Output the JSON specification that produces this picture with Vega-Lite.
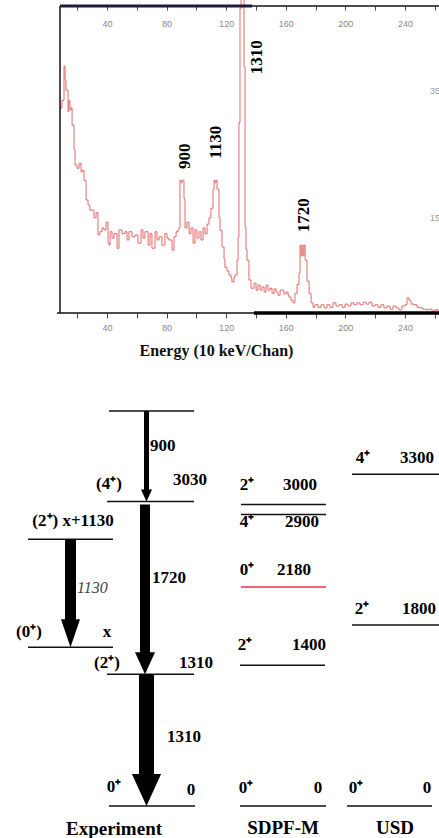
{
  "$schema": "https://vega.github.io/schema/vega-lite/v6.json",
  "background": "white",
  "padding": {"left": 16, "top": 0, "right": 0, "bottom": 0},
  "spacing": 20,
  "config": {"view": {"stroke": null}, "font": "Liberation Serif"},
  "datasets": {
    "spectrum": [
      {"chan":8.5,"counts":323},{"chan":9.8,"counts":335},{"chan":11.2,"counts":389},{"chan":11.9,"counts":367},{"chan":12.5,"counts":351},{"chan":13.2,"counts":351},{"chan":13.9,"counts":317},{"chan":14.5,"counts":335},{"chan":15.2,"counts":320},{"chan":15.9,"counts":323},{"chan":16.6,"counts":296},{"chan":17.9,"counts":257},{"chan":18.6,"counts":233},{"chan":19.9,"counts":228},{"chan":21.3,"counts":236},{"chan":22.6,"counts":222},{"chan":23.3,"counts":225},{"chan":24.6,"counts":209},{"chan":26.0,"counts":178},{"chan":27.3,"counts":170},{"chan":28.6,"counts":162},{"chan":30.0,"counts":162},{"chan":31.3,"counts":150},{"chan":32.7,"counts":158},{"chan":34.0,"counts":123},{"chan":35.3,"counts":128},{"chan":36.7,"counts":134},{"chan":38.0,"counts":131},{"chan":39.4,"counts":143},{"chan":40.7,"counts":110},{"chan":41.4,"counts":107},{"chan":42.1,"counts":128},{"chan":43.4,"counts":118},{"chan":44.7,"counts":125},{"chan":46.8,"counts":102},{"chan":48.1,"counts":131},{"chan":50.1,"counts":125},{"chan":52.1,"counts":128},{"chan":53.5,"counts":115},{"chan":54.8,"counts":128},{"chan":56.8,"counts":120},{"chan":58.8,"counts":123},{"chan":60.8,"counts":110},{"chan":62.9,"counts":131},{"chan":64.2,"counts":118},{"chan":65.5,"counts":128},{"chan":67.6,"counts":107},{"chan":68.9,"counts":125},{"chan":70.2,"counts":102},{"chan":72.3,"counts":128},{"chan":73.6,"counts":115},{"chan":74.9,"counts":120},{"chan":76.9,"counts":107},{"chan":78.9,"counts":125},{"chan":80.3,"counts":118},{"chan":81.6,"counts":115},{"chan":83.7,"counts":99},{"chan":85.0,"counts":120},{"chan":86.4,"counts":128},{"chan":87.7,"counts":131},{"chan":88.4,"counts":134},{"chan":89.0,"counts":209},{"chan":89.7,"counts":205},{"chan":90.4,"counts":209},{"chan":91.1,"counts":209},{"chan":91.7,"counts":180},{"chan":92.4,"counts":134},{"chan":93.7,"counts":143},{"chan":95.1,"counts":125},{"chan":96.4,"counts":134},{"chan":97.8,"counts":110},{"chan":99.1,"counts":131},{"chan":100.4,"counts":118},{"chan":101.8,"counts":128},{"chan":103.1,"counts":115},{"chan":104.5,"counts":134},{"chan":105.8,"counts":125},{"chan":107.2,"counts":140},{"chan":108.5,"counts":150},{"chan":109.8,"counts":165},{"chan":111.2,"counts":195},{"chan":111.9,"counts":209},{"chan":112.6,"counts":205},{"chan":113.2,"counts":209},{"chan":113.9,"counts":195},{"chan":115.2,"counts":150},{"chan":115.9,"counts":130},{"chan":117.2,"counts":104},{"chan":118.6,"counts":85},{"chan":119.2,"counts":72},{"chan":120.6,"counts":66},{"chan":121.9,"counts":60},{"chan":123.3,"counts":55},{"chan":123.9,"counts":49},{"chan":125.3,"counts":57},{"chan":126.0,"counts":60},{"chan":127.3,"counts":83},{"chan":128.0,"counts":120},{"chan":128.6,"counts":300},{"chan":129.3,"counts":480},{"chan":130.0,"counts":600},{"chan":131.3,"counts":600},{"chan":132.0,"counts":387},{"chan":132.7,"counts":135},{"chan":133.3,"counts":100},{"chan":134.0,"counts":83},{"chan":135.3,"counts":52},{"chan":136.7,"counts":39},{"chan":137.4,"counts":39},{"chan":138.7,"counts":47},{"chan":140.1,"counts":36},{"chan":141.4,"counts":44},{"chan":142.8,"counts":36},{"chan":144.1,"counts":41},{"chan":145.5,"counts":33},{"chan":146.8,"counts":44},{"chan":148.1,"counts":36},{"chan":149.5,"counts":39},{"chan":150.8,"counts":31},{"chan":152.2,"counts":38},{"chan":153.5,"counts":33},{"chan":154.8,"counts":28},{"chan":156.2,"counts":36},{"chan":157.5,"counts":36},{"chan":158.8,"counts":30},{"chan":160.2,"counts":33},{"chan":161.5,"counts":28},{"chan":162.2,"counts":25},{"chan":163.5,"counts":20},{"chan":164.9,"counts":16},{"chan":166.2,"counts":31},{"chan":167.6,"counts":45},{"chan":168.9,"counts":63},{"chan":169.6,"counts":107},{"chan":170.3,"counts":90},{"chan":170.9,"counts":107},{"chan":171.6,"counts":90},{"chan":172.3,"counts":107},{"chan":173.0,"counts":83},{"chan":174.3,"counts":50},{"chan":175.7,"counts":31},{"chan":177.0,"counts":16},{"chan":178.3,"counts":9},{"chan":179.6,"counts":13},{"chan":181.7,"counts":9},{"chan":183.7,"counts":13},{"chan":185.7,"counts":8},{"chan":187.7,"counts":13},{"chan":189.7,"counts":9},{"chan":191.7,"counts":16},{"chan":193.7,"counts":11},{"chan":195.8,"counts":13},{"chan":197.8,"counts":9},{"chan":199.8,"counts":14},{"chan":201.8,"counts":11},{"chan":203.8,"counts":16},{"chan":205.8,"counts":13},{"chan":207.8,"counts":16},{"chan":209.8,"counts":13},{"chan":211.9,"counts":17},{"chan":213.9,"counts":14},{"chan":215.9,"counts":17},{"chan":217.9,"counts":11},{"chan":219.9,"counts":13},{"chan":221.9,"counts":9},{"chan":223.9,"counts":13},{"chan":225.9,"counts":8},{"chan":227.9,"counts":11},{"chan":230.0,"counts":6},{"chan":232.0,"counts":11},{"chan":234.0,"counts":8},{"chan":236.0,"counts":5},{"chan":238.0,"counts":11},{"chan":240.0,"counts":13},{"chan":241.4,"counts":24},{"chan":242.7,"counts":20},{"chan":244.1,"counts":14},{"chan":246.1,"counts":13},{"chan":248.1,"counts":9},{"chan":250.1,"counts":8},{"chan":252.1,"counts":6},{"chan":254.1,"counts":5},{"chan":256.2,"counts":6},{"chan":258.2,"counts":3},{"chan":260.2,"counts":5},{"chan":262.2,"counts":3},{"chan":264.2,"counts":3}
    ],
    "frame": [
      {"edge":"left","c1":8.5,"c2":8.5,"v1":0,"v2":483.5},
      {"edge":"top","c1":8.5,"c2":264.2,"v1":483.5,"v2":483.5},
      {"edge":"bottom","c1":6.5,"c2":264.2,"v1":0,"v2":0}
    ],
    "heavyTop": [{"c1":8.5,"c2":137.4,"v":483.5}],
    "heavyBottom": [{"c1":138.7,"c2":264.2,"v":0}],
    "peaks": [
      {"chan":92.4,"counts":247,"label":"900"},
      {"chan":113.2,"counts":269,"label":"1130"},
      {"chan":140.7,"counts":403,"label":"1310"},
      {"chan":172.3,"counts":154,"label":"1720"}
    ],
    "sideTicks": [
      {"chan":256.8,"counts":350,"label":"35"},
      {"chan":256.8,"counts":150,"label":"15"}
    ],
    "levels": [
      {"scheme":"Experiment","x":107,"x2":192,"E":3930,"type":"normal"},
      {"scheme":"Experiment","x":105,"x2":192,"E":3030,"type":"normal"},
      {"scheme":"Experiment","x":26,"x2":111,"E":2654,"type":"normal"},
      {"scheme":"Experiment","x":26,"x2":111,"E":1580,"type":"normal"},
      {"scheme":"Experiment","x":105,"x2":192,"E":1310,"type":"normal"},
      {"scheme":"Experiment","x":107,"x2":193,"E":0,"type":"normal"},
      {"scheme":"SDPF-M","x":239,"x2":324,"E":3000,"type":"normal"},
      {"scheme":"SDPF-M","x":239,"x2":324,"E":2900,"type":"normal"},
      {"scheme":"SDPF-M","x":239,"x2":324,"E":2180,"type":"intruder"},
      {"scheme":"SDPF-M","x":238,"x2":323,"E":1400,"type":"normal"},
      {"scheme":"SDPF-M","x":238,"x2":324,"E":0,"type":"normal"},
      {"scheme":"USD","x":350,"x2":437,"E":3300,"type":"normal"},
      {"scheme":"USD","x":350,"x2":437,"E":1800,"type":"normal"},
      {"scheme":"USD","x":345,"x2":430,"E":0,"type":"normal"}
    ],
    "transitions": [
      {"gamma":"900","x":144.5,"from":3930,"to":3030},
      {"gamma":"1720","x":143,"from":3030,"to":1310},
      {"gamma":"1130","x":68.5,"from":2654,"to":1580},
      {"gamma":"1310","x":144.5,"from":1310,"to":0}
    ],
    "levelLabels": [
      {"x":107,"E":3204,"text":"(4⁺)"},
      {"x":188,"E":3244,"text":"3030"},
      {"x":71,"E":2836,"text":"(2⁺) x+1130"},
      {"x":27,"E":1731,"text":"(0⁺)"},
      {"x":105,"E":1731,"text":"x"},
      {"x":105,"E":1423,"text":"(2⁺)"},
      {"x":194,"E":1423,"text":"1310"},
      {"x":112,"E":189,"text":"0⁺"},
      {"x":189,"E":159,"text":"0"},
      {"x":245,"E":3194,"text":"2⁺"},
      {"x":298,"E":3194,"text":"3000"},
      {"x":245,"E":2826,"text":"4⁺"},
      {"x":300,"E":2826,"text":"2900"},
      {"x":245,"E":2348,"text":"0⁺"},
      {"x":292,"E":2348,"text":"2180"},
      {"x":243,"E":1602,"text":"2⁺"},
      {"x":307,"E":1602,"text":"1400"},
      {"x":244,"E":179,"text":"0⁺"},
      {"x":316,"E":179,"text":"0"},
      {"x":361,"E":3463,"text":"4⁺"},
      {"x":415,"E":3463,"text":"3300"},
      {"x":360,"E":1960,"text":"2⁺"},
      {"x":417,"E":1960,"text":"1800"},
      {"x":354,"E":179,"text":"0⁺"},
      {"x":425,"E":179,"text":"0"}
    ],
    "gammaLabels": [
      {"x":148,"E":3582,"text":"900","style":"normal"},
      {"x":150,"E":2269,"text":"1720","style":"normal"},
      {"x":75,"E":2169,"text":"1130","style":"italic"},
      {"x":165,"E":687,"text":"1310","style":"normal"}
    ],
    "columns": [
      {"x":112,"E":-225,"text":"Experiment"},
      {"x":281,"E":-219,"text":"SDPF-M"},
      {"x":393,"E":-219,"text":"USD"}
    ]
  },
  "vconcat": [
    {
      "width": 381,
      "height": 313,
      "resolve": {"axis": {"x": "independent"}},
      "layer": [
        {
          "data": {"name": "spectrum"},
          "mark": {"type": "line", "interpolate": "step-after", "color": "#e26a6a", "strokeWidth": 1, "clip": true},
          "encoding": {
            "x": {"field": "chan", "type": "quantitative", "scale": {"domain": [8.5, 264.2], "nice": false, "zero": false},
              "axis": {"orient": "bottom", "values": [20,40,60,80,100,120,140,160,180,200,220,240,260], "labelExpr": "datum.value % 40 === 0 ? datum.label : ''", "domain": false, "grid": false, "tickSize": 5, "tickColor": "#444", "labelColor": "#888", "labelFont": "Liberation Sans", "labelFontSize": 9, "labelPadding": 5, "title": "Energy (10 keV/Chan)", "titleFont": "Liberation Serif", "titleFontSize": 16, "titleFontWeight": "bold", "titleColor": "#111", "titlePadding": 10, "titleX": 156, "titleAlign": "center"}},
            "y": {"field": "counts", "type": "quantitative", "scale": {"domain": [0, 493], "nice": false},
              "axis": {"orient": "left", "labels": false, "ticks": false, "domain": false, "grid": false, "title": "Counts", "titleFont": "Liberation Serif", "titleFontSize": 16, "titleFontWeight": "bold", "titleColor": "#111", "titlePadding": 10, "titleY": 165, "titleAlign": "center"}}
          }
        },
        {
          "data": {"name": "frame"},
          "mark": {"type": "rule", "color": "#111", "strokeWidth": 1.5},
          "encoding": {
            "x": {"field": "c1", "type": "quantitative", "scale": {"domain": [8.5, 264.2], "nice": false, "zero": false},
              "axis": {"orient": "top", "offset": -6, "values": [20,40,60,80,100,120,140,160,180,200,220,240,260], "labelExpr": "datum.value % 40 === 0 ? datum.label : ''", "domain": false, "grid": false, "tickSize": -4, "tickColor": "#444", "labelColor": "#888", "labelFont": "Liberation Sans", "labelFontSize": 9, "labelPadding": -13, "labelBaseline": "middle", "title": null}},
            "x2": {"field": "c2"},
            "y": {"field": "v1", "type": "quantitative"},
            "y2": {"field": "v2"}
          }
        },
        {
          "data": {"name": "heavyTop"},
          "mark": {"type": "rule", "color": "#1c1c3c", "strokeWidth": 3},
          "encoding": {
            "x": {"field": "c1", "type": "quantitative", "axis": null},
            "x2": {"field": "c2"},
            "y": {"field": "v", "type": "quantitative", "axis": null}
          }
        },
        {
          "data": {"name": "heavyBottom"},
          "mark": {"type": "rule", "color": "#000", "strokeWidth": 3.5},
          "encoding": {
            "x": {"field": "c1", "type": "quantitative", "axis": null},
            "x2": {"field": "c2"},
            "y": {"field": "v", "type": "quantitative", "axis": null}
          }
        },
        {
          "data": {"name": "peaks"},
          "mark": {"type": "text", "angle": 270, "font": "Liberation Serif", "fontWeight": "bold", "fontSize": 17, "color": "#000", "align": "center", "baseline": "middle"},
          "encoding": {
            "x": {"field": "chan", "type": "quantitative", "axis": null},
            "y": {"field": "counts", "type": "quantitative", "axis": null},
            "text": {"field": "label"}
          }
        },
        {
          "data": {"name": "sideTicks"},
          "mark": {"type": "text", "font": "Liberation Sans", "fontSize": 9, "color": "#999", "align": "left", "baseline": "middle"},
          "encoding": {
            "x": {"field": "chan", "type": "quantitative", "axis": null},
            "y": {"field": "counts", "type": "quantitative", "axis": null},
            "text": {"field": "label"}
          }
        }
      ]
    },
    {
      "width": 381,
      "height": 455,
      "encoding": {
        "x": {"field": "x", "type": "quantitative", "scale": {"domain": [58, 439], "nice": false, "zero": false}, "axis": null},
        "y": {"field": "E", "type": "quantitative", "scale": {"domain": [-269, 4259], "nice": false, "zero": false}, "axis": null}
      },
      "layer": [
        {
          "data": {"name": "levels"},
          "mark": {"type": "rule", "strokeWidth": 1.5},
          "encoding": {
            "x2": {"field": "x2"},
            "color": {"field": "type", "type": "nominal", "scale": {"domain": ["normal", "intruder"], "range": ["#111111", "#e8354d"]}, "legend": null}
          }
        },
        {
          "data": {"name": "transitions"},
          "transform": [{"filter": "datum.gamma === '900'"}],
          "mark": {"type": "rule", "color": "#000", "strokeWidth": 5, "y2Offset": -10},
          "encoding": {"y": {"field": "from", "type": "quantitative"}, "y2": {"field": "to"}}
        },
        {
          "data": {"name": "transitions"},
          "transform": [{"filter": "datum.gamma === '1720'"}],
          "mark": {"type": "rule", "color": "#000", "strokeWidth": 10, "yOffset": 3, "y2Offset": -20},
          "encoding": {"y": {"field": "from", "type": "quantitative"}, "y2": {"field": "to"}}
        },
        {
          "data": {"name": "transitions"},
          "transform": [{"filter": "datum.gamma === '1130'"}],
          "mark": {"type": "rule", "color": "#000", "strokeWidth": 11, "y2Offset": -26},
          "encoding": {"y": {"field": "from", "type": "quantitative"}, "y2": {"field": "to"}}
        },
        {
          "data": {"name": "transitions"},
          "transform": [{"filter": "datum.gamma === '1310'"}],
          "mark": {"type": "rule", "color": "#000", "strokeWidth": 15, "y2Offset": -30},
          "encoding": {"y": {"field": "from", "type": "quantitative"}, "y2": {"field": "to"}}
        },
        {
          "data": {"name": "transitions"},
          "transform": [{"filter": "datum.gamma === '900'"}],
          "mark": {"type": "point", "shape": "M-0.92,-2L0.92,-2L0,0Z", "size": 144, "filled": true, "color": "#000", "opacity": 1, "strokeWidth": 0},
          "encoding": {"y": {"field": "to", "type": "quantitative"}}
        },
        {
          "data": {"name": "transitions"},
          "transform": [{"filter": "datum.gamma === '1720'"}],
          "mark": {"type": "point", "shape": "M-0.91,-2L0.91,-2L0,0Z", "size": 484, "filled": true, "color": "#000", "opacity": 1, "strokeWidth": 0},
          "encoding": {"y": {"field": "to", "type": "quantitative"}}
        },
        {
          "data": {"name": "transitions"},
          "transform": [{"filter": "datum.gamma === '1130'"}],
          "mark": {"type": "point", "shape": "M-0.68,-2L0.68,-2L0,0Z", "size": 784, "filled": true, "color": "#000", "opacity": 1, "strokeWidth": 0},
          "encoding": {"y": {"field": "to", "type": "quantitative"}}
        },
        {
          "data": {"name": "transitions"},
          "transform": [{"filter": "datum.gamma === '1310'"}],
          "mark": {"type": "point", "shape": "M-0.91,-2L0.91,-2L0,0Z", "size": 1024, "filled": true, "color": "#000", "opacity": 1, "strokeWidth": 0},
          "encoding": {"y": {"field": "to", "type": "quantitative"}}
        },
        {
          "data": {"name": "levelLabels"},
          "mark": {"type": "text", "font": "Liberation Serif", "fontWeight": "bold", "fontSize": 17, "color": "#000", "align": "center", "baseline": "middle"},
          "encoding": {"text": {"field": "text"}}
        },
        {
          "data": {"name": "gammaLabels"},
          "transform": [{"filter": "datum.style === 'normal'"}],
          "mark": {"type": "text", "font": "Liberation Serif", "fontWeight": "bold", "fontSize": 17, "color": "#000", "align": "left", "baseline": "middle"},
          "encoding": {"text": {"field": "text"}}
        },
        {
          "data": {"name": "gammaLabels"},
          "transform": [{"filter": "datum.style === 'italic'"}],
          "mark": {"type": "text", "font": "Liberation Serif", "fontStyle": "italic", "fontSize": 16, "color": "#444", "align": "left", "baseline": "middle"},
          "encoding": {"text": {"field": "text"}}
        },
        {
          "data": {"name": "columns"},
          "mark": {"type": "text", "font": "Liberation Serif", "fontWeight": "bold", "fontSize": 19, "color": "#000", "align": "center", "baseline": "middle"},
          "encoding": {"text": {"field": "text"}}
        }
      ]
    }
  ]
}
